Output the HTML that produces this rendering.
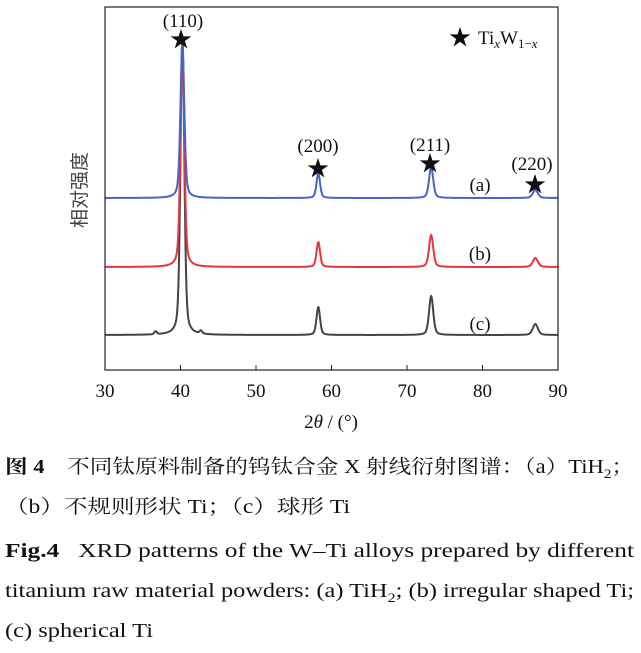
<!DOCTYPE html>
<html><head><meta charset="utf-8"><style>html,body{margin:0;padding:0;background:#fff}svg{display:block}
svg text{font-family:"Liberation Serif","Times New Roman",Times,"Noto Serif CJK SC",serif}
svg text.cjk{font-family:"Noto Sans CJK SC",sans-serif}</style></head>
<body>
<svg id="s" width="641" height="653" viewBox="0 0 641 653" xmlns="http://www.w3.org/2000/svg">
<g id="curves"></g>
<rect x="105" y="7" width="453" height="363" fill="none" stroke="#222" stroke-width="1.2"/>
<g stroke="#222" stroke-width="1">
<line x1="180.5" y1="370" x2="180.5" y2="365"/><line x1="256" y1="370" x2="256" y2="365"/><line x1="331.5" y1="370" x2="331.5" y2="365"/><line x1="407" y1="370" x2="407" y2="365"/><line x1="482.5" y1="370" x2="482.5" y2="365"/>
</g>
<g font-size="19" text-anchor="middle" fill="#111">
<text x="105" y="397">30</text><text x="180.5" y="397">40</text><text x="256" y="397">50</text><text x="331.5" y="397">60</text><text x="407" y="397">70</text><text x="482.5" y="397">80</text><text x="558" y="397">90</text>
<text x="331" y="428">2<tspan font-style="italic">θ</tspan> / (°)</text>
<text x="183" y="27">(110)</text>
<text x="318" y="152">(200)</text>
<text x="430" y="151">(211)</text>
<text x="532" y="170">(220)</text>
<text x="181" y="47" font-size="22">★</text>
<text x="318" y="176" font-size="22">★</text>
<text x="430" y="171" font-size="22">★</text>
<text x="535" y="192" font-size="22">★</text>
<text x="460" y="45" font-size="22">★</text>
<text x="480" y="191">(a)</text>
<text x="480" y="260">(b)</text>
<text x="480" y="330">(c)</text>
</g>
<text x="478" y="44" font-size="19" fill="#111">Ti<tspan font-size="13" font-style="italic" dy="4">x</tspan><tspan dy="-4">W</tspan><tspan font-size="13" dy="4">1−<tspan font-style="italic">x</tspan></tspan></text>
<text class="cjk" transform="translate(86,190) rotate(-90)" font-size="19" fill="#444" text-anchor="middle">相对强度</text>
<g fill="#111" font-size="19.5">
<text x="5" y="473" textLength="629" lengthAdjust="spacingAndGlyphs"><tspan font-weight="bold">图 4</tspan>　不同钛原料制备的钨钛合金 X 射线衍射图谱：（a）TiH<tspan font-size="13" dy="5">2</tspan><tspan dy="-5">；</tspan></text>
<text x="5" y="513" textLength="345" lengthAdjust="spacingAndGlyphs">（b）不规则形状 Ti；（c）球形 Ti</text>
<text x="5" y="557" textLength="629" lengthAdjust="spacingAndGlyphs"><tspan font-weight="bold">Fig.4</tspan>&#160;&#160;&#160;XRD patterns of the W–Ti alloys prepared by different</text>
<text x="5" y="597" textLength="629" lengthAdjust="spacingAndGlyphs">titanium raw material powders: (a) TiH<tspan font-size="13" dy="5">2</tspan><tspan dy="-5">; (b) irregular shaped Ti;</tspan></text>
<text x="5" y="637" textLength="148" lengthAdjust="spacingAndGlyphs">(c) spherical Ti</text>
</g>
</svg>
<script>
function curve(base,peaks,col){
 let d='';
 for(let px=105;px<=558;px+=0.5){
  let t=30+(px-105)/7.55, y=base;
  for(const [c,h,w] of peaks){ const u=(t-c)/w; y-=h*(0.6*Math.exp(-u*u*0.7)+0.4/(1+u*u)); }
  d+=(d?'L':'M')+px.toFixed(1)+' '+y.toFixed(2);
 }
 const p=document.createElementNS('http://www.w3.org/2000/svg','path');
 p.setAttribute('d',d);p.setAttribute('fill','none');p.setAttribute('stroke',col);p.setAttribute('stroke-width','2');
 document.getElementById('curves').appendChild(p);
}
curve(335,[[40.25,300,0.3],[58.25,28,0.28],[73.2,39,0.33],[87,11,0.4],[36.7,3,0.2],[42.7,3,0.2]],'#444');
curve(267,[[40.25,220,0.3],[58.25,25,0.28],[73.2,32,0.33],[87,9,0.4]],'#e8343c');
curve(198,[[40.25,155,0.3],[58.25,25,0.28],[73.2,31,0.33],[87,8,0.4]],'#4466c4');
</script>
</body></html>
